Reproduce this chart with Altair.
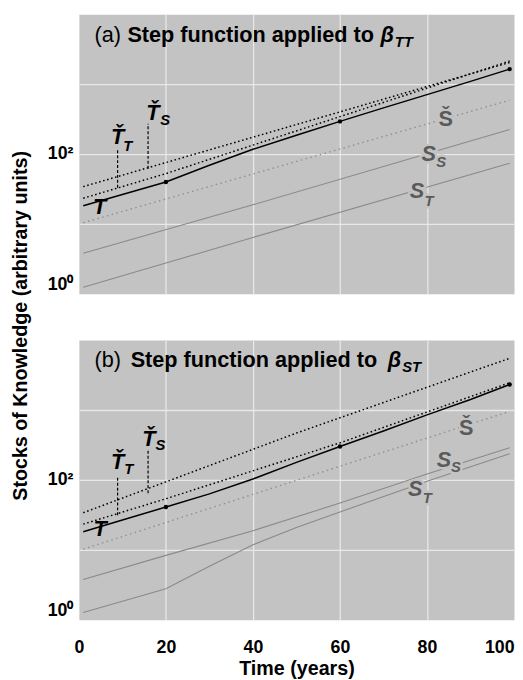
import altair as alt
import pandas as pd

FONT = "Liberation Sans"
BG = "#c3c3c3"
GRID = "#e8e8e8"
GRAY_LINE = "#8a8a8a"
GRAY_TEXT = "#5a5a5a"

X_TICKS = [0, 20, 40, 60, 80, 100]
Y_TICKS = [1, 10, 100, 1000]
DOT_TIMES = [20, 60, 99]

# ---------------- Panel (a): step function applied to beta_TT ----------------
A_T_TIME = [1, 10, 20, 30, 40, 50, 60, 70, 80, 90, 99]
A_T_VAL = [18.2, 26.3, 39.8, 69.2, 117, 186, 293, 457, 708, 1096, 1641]
A_TT_TIME = [1, 20, 99]
A_TT_VAL = [23.3, 52.5, 2138]
A_TS_TIME = [1, 99]
A_TS_VAL = [34.2, 2042]
A_SC_TIME = [1, 99]
A_SC_VAL = [10.4, 589]
A_SS_TIME = [1, 40, 99]
A_SS_VAL = [3.82, 18.8, 224]
A_ST_TIME = [1, 20, 40, 99]
A_ST_VAL = [1.245, 2.76, 6.4, 73.6]

A_PTR_TIME = [8.9, 15.9]
A_PTR_LOW = [33.0, 61.7]
A_PTR_HIGH = [120, 272]

A_LAB_TEXT = ["(a)", "Step function applied to", "β", "TT",
              "T", "Ť", "T", "Ť", "S", "Š", "S", "S", "S", "T"]
A_LAB_TIME = [3.6, 11.15, 69.3, 72.6,
              4.75, 8.9, 10.2, 17.0, 18.7, 84.3, 80.4, 82.1, 77.7, 79.4]
A_LAB_VAL = [3981, 3981, 3981, 3388,
             13.9, 138, 111, 309, 263, 251, 80.4, 64.6, 23.3, 17.8]
A_LAB_STYLE = ["reg", "bold", "bi", "bi",
               "blk_c", "blk_c", "blk_l", "blk_c", "blk_l", "gup_c", "gi_c", "gi_l", "gi_c", "gi_l"]
A_LAB_SIZE = [22, 22, 22, 15,
              22, 22, 15, 22, 15, 22, 22, 15, 22, 15]

# ---------------- Panel (b): step function applied to beta_ST ----------------
B_T_TIME = [1, 10, 20, 30, 40, 50, 60, 70, 80, 90, 99]
B_T_VAL = [18.1, 26.7, 40.9, 63.1, 103, 178, 301, 501, 851, 1413, 2317]
B_TT_TIME = [1, 20, 60, 99]
B_TT_VAL = [23.3, 53.7, 339, 2455]
B_TS_TIME = [1, 50, 99]
B_TS_VAL = [33.9, 468, 5495]
B_SC_TIME = [1, 99]
B_SC_VAL = [10.2, 955]
B_SS_TIME = [1, 20, 40, 60, 80, 99]
B_SS_VAL = [3.77, 8.32, 18.75, 46.6, 121, 288]
B_ST_TIME = [1, 20, 30, 40, 50, 60, 80, 99]
B_ST_VAL = [1.27, 2.78, 5.8, 11.8, 20.9, 34.8, 95.3, 237]

B_PTR_TIME = [8.9, 15.9]
B_PTR_LOW = [31.2, 64.6]
B_PTR_HIGH = [115, 272]

B_LAB_TEXT = ["(b)", "Step function applied to", "β", "ST",
              "T", "Ť", "T", "Ť", "S", "Š", "S", "S", "S", "T"]
B_LAB_TIME = [3.6, 11.9, 71.0, 74.3,
              4.9, 8.9, 10.4, 16.1, 17.6, 89.0, 83.9, 85.5, 77.3, 79.0]
B_LAB_VAL = [4102, 4102, 4102, 3467,
             15.5, 141, 120, 302, 269, 437, 151, 128, 59.8, 47]
B_LAB_STYLE = A_LAB_STYLE
B_LAB_SIZE = A_LAB_SIZE


def lines_frame(series):
    rows = []
    for name, (ts, vs) in series.items():
        for t, v in zip(ts, vs):
            rows.append({"series": name, "t": t, "v": v})
    return pd.DataFrame(rows)


STYLES = {
    "reg": dict(align="left", fontWeight="normal", fontStyle="normal", color="black"),
    "bold": dict(align="left", fontWeight="bold", fontStyle="normal", color="black"),
    "bi": dict(align="left", fontWeight="bold", fontStyle="italic", color="black"),
    "blk_c": dict(align="center", fontWeight="bold", fontStyle="italic", color="black"),
    "blk_l": dict(align="left", fontWeight="bold", fontStyle="italic", color="black"),
    "gup_c": dict(align="center", fontWeight="bold", fontStyle="normal", color=GRAY_TEXT),
    "gi_c": dict(align="center", fontWeight="bold", fontStyle="italic", color=GRAY_TEXT),
    "gi_l": dict(align="left", fontWeight="bold", fontStyle="italic", color=GRAY_TEXT),
}
HALO = {"gup_c", "gi_c", "gi_l"}


def panel(series, ptr, labels, bottom, y_title):
    df = lines_frame(series)
    t_times, t_vals = series["T"]
    dots = pd.DataFrame({"t": [t for t in t_times if t in DOT_TIMES],
                         "v": [v for t, v in zip(t_times, t_vals) if t in DOT_TIMES]})
    pdf = pd.DataFrame({"t": ptr[0], "v": ptr[1], "v2": ptr[2]})
    ldf = pd.DataFrame({"text": labels[0], "t": labels[1], "v": labels[2],
                        "style": labels[3], "size": labels[4]})

    xkw = dict(values=X_TICKS, grid=True, ticks=False, domain=False,
               gridColor={"condition": {"test": "datum.value == 0 || datum.value == 100",
                                        "value": "transparent"}, "value": GRID},
               gridWidth=1.3)
    if bottom:
        xkw.update(labels=True, labelFont=FONT, labelFontSize=18, labelFontWeight="bold",
                   labelColor="black", labelPadding=19,
                   labelAlign={"condition": {"test": "datum.value == 100", "value": "right"},
                               "value": "center"},
                   title="Time (years)", titleFont=FONT, titleFontSize=20,
                   titleFontWeight="bold", titleColor="black", titlePadding=3)
    else:
        xkw.update(labels=False, title="")
    ykw = dict(values=Y_TICKS, grid=True, ticks=False, domain=False,
               gridColor={"condition": {"test": "datum.value == 1", "value": "transparent"},
                          "value": GRID},
               gridWidth=1.3,
               labelExpr="datum.value == 1 ? '10⁰' : (datum.value == 100 ? '10²' : '')",
               labelFont=FONT, labelFontSize=18, labelFontWeight="bold", labelColor="black",
               labelPadding=6,
               labelBaseline={"condition": {"test": "datum.value == 1", "value": "bottom"},
                              "value": "middle"})
    if y_title:
        ykw.update(title=y_title, titleAngle=270, titleX=-59, titleY=316,
                   titleAlign="center", titleBaseline="middle", titleFont=FONT,
                   titleFontSize=20, titleFontWeight="bold", titleColor="black")
    else:
        ykw.update(title="")

    x = alt.X("t:Q", scale=alt.Scale(domain=[0, 100], nice=False, zero=False),
              axis=alt.Axis(**xkw))
    y = alt.Y("v:Q", scale=alt.Scale(type="log", domain=[1, 10000], nice=False),
              axis=alt.Axis(**ykw))

    base = alt.Chart(df).encode(x=x, y=y, detail="series:N")
    layers = [
        base.transform_filter("datum.series == 'SS' || datum.series == 'ST'")
            .mark_line(color=GRAY_LINE, strokeWidth=1.1),
        base.transform_filter("datum.series == 'SC'")
            .mark_line(color="#8e8e8e", strokeWidth=1.4, strokeDash=[1.5, 3.5]),
        base.transform_filter("datum.series == 'TT' || datum.series == 'TS'")
            .mark_line(color="black", strokeWidth=1.5, strokeDash=[1.6, 2.6]),
        base.transform_filter("datum.series == 'T'")
            .mark_line(color="black", strokeWidth=1.5),
        alt.Chart(dots).mark_circle(color="black", size=20, opacity=1)
            .encode(x=x, y=y),
        alt.Chart(pdf).mark_rule(color="black", strokeWidth=1.2, strokeDash=[3, 2])
            .encode(x=x, y=y, y2="v2:Q"),
    ]
    for key, st in STYLES.items():
        sub = alt.Chart(ldf).transform_filter(f"datum.style == '{key}'")
        enc = dict(x=x, y=y, text="text:N", size=alt.Size("size:Q", scale=None, legend=None))
        if key in HALO:
            halo = dict(st)
            halo["color"] = BG
            layers.append(sub.mark_text(baseline="alphabetic", font=FONT, stroke=BG,
                                        strokeWidth=5, strokeJoin="round", strokeOpacity=1,
                                        **halo).encode(**enc))
        layers.append(sub.mark_text(baseline="alphabetic", font=FONT, **st).encode(**enc))
    return alt.layer(*layers).properties(width=442, height=284)


top = panel(
    {"T": (A_T_TIME, A_T_VAL), "TT": (A_TT_TIME, A_TT_VAL), "TS": (A_TS_TIME, A_TS_VAL),
     "SC": (A_SC_TIME, A_SC_VAL), "SS": (A_SS_TIME, A_SS_VAL), "ST": (A_ST_TIME, A_ST_VAL)},
    (A_PTR_TIME, A_PTR_LOW, A_PTR_HIGH),
    (A_LAB_TEXT, A_LAB_TIME, A_LAB_VAL, A_LAB_STYLE, A_LAB_SIZE),
    bottom=False, y_title="Stocks of Knowledge (arbitrary units)")

bot = panel(
    {"T": (B_T_TIME, B_T_VAL), "TT": (B_TT_TIME, B_TT_VAL), "TS": (B_TS_TIME, B_TS_VAL),
     "SC": (B_SC_TIME, B_SC_VAL), "SS": (B_SS_TIME, B_SS_VAL), "ST": (B_ST_TIME, B_ST_VAL)},
    (B_PTR_TIME, B_PTR_LOW, B_PTR_HIGH),
    (B_LAB_TEXT, B_LAB_TIME, B_LAB_VAL, B_LAB_STYLE, B_LAB_SIZE),
    bottom=True, y_title=None)

chart = (
    alt.vconcat(top, bot, spacing=47, bounds="flush")
    .properties(padding={"left": 2, "top": 0, "right": 0, "bottom": 0}, background="white")
    .configure(font=FONT)
    .configure_view(fill=BG, stroke="transparent")
)

chart.save("out.html", embed_options={"renderer": "svg", "actions": False})
